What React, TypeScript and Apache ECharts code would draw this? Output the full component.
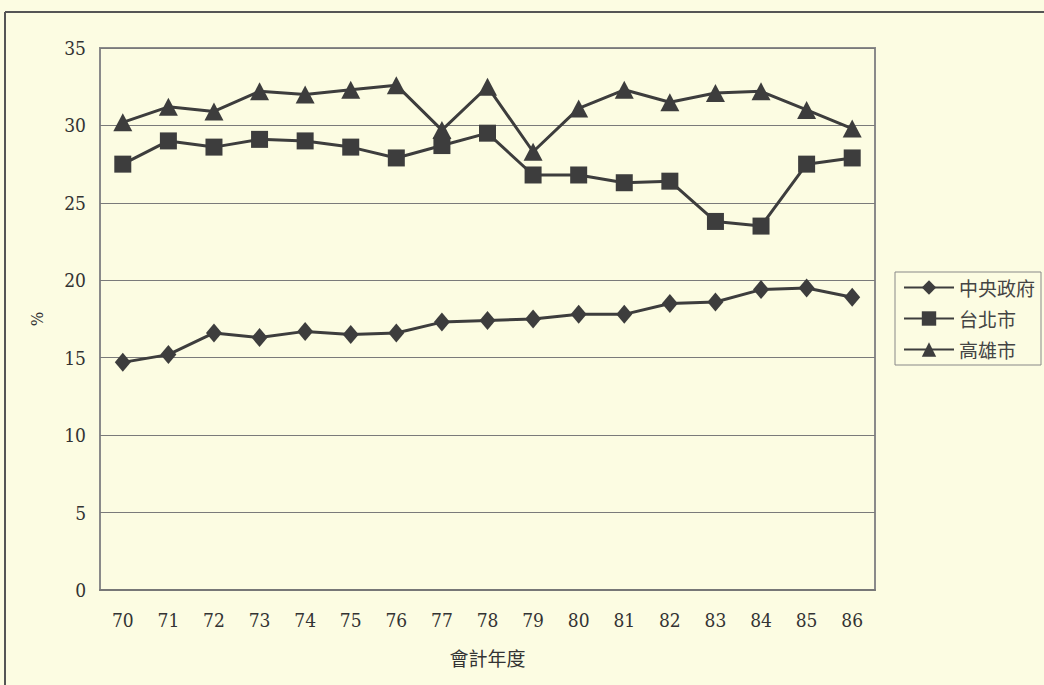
import React, { useEffect, useRef } from "react";
import * as echarts from "echarts";

const years = ["70", "71", "72", "73", "74", "75", "76", "77", "78", "79", "80", "81", "82", "83", "84", "85", "86"];
const central = [14.7, 15.2, 16.6, 16.3, 16.7, 16.5, 16.6, 17.3, 17.4, 17.5, 17.8, 17.8, 18.5, 18.6, 19.4, 19.5, 18.9];
const taipei = [27.5, 29.0, 28.6, 29.1, 29.0, 28.6, 27.9, 28.7, 29.5, 26.8, 26.8, 26.3, 26.4, 23.8, 23.5, 27.5, 27.9];
const kaohsiung = [30.2, 31.2, 30.9, 32.2, 32.0, 32.3, 32.6, 29.7, 32.5, 28.3, 31.1, 32.3, 31.5, 32.1, 32.2, 31.0, 29.8];
const seriesNames = ["中央政府", "台北市", "高雄市"];

const FONT = "'DejaVu Serif Condensed', 'Liberation Serif', 'Noto Sans CJK TC', serif";
const CJK = "'Noto Sans CJK TC', sans-serif";
const LINE = "#3d3d3d";

export default function App() {
  const ref = useRef<HTMLDivElement>(null);
  useEffect(() => {
    const chart = echarts.init(ref.current!, null, { renderer: "svg" });
    const mk = (name: string, data: number[], symbol: string, size: number | number[]) => ({
      name,
      type: "line",
      data,
      symbol,
      symbolSize: size,
      showSymbol: true,
      lineStyle: { color: LINE, width: 3 },
      itemStyle: { color: LINE, borderWidth: 0 },
    });
    chart.setOption({
      animation: false,
      backgroundColor: "#fcfce2",
      textStyle: { fontFamily: FONT },
      graphic: [
        { type: "line", shape: { x1: 5, y1: 12, x2: 1044, y2: 12 }, style: { stroke: "#555", lineWidth: 2 } },
        { type: "line", shape: { x1: 5, y1: 12, x2: 5, y2: 685 }, style: { stroke: "#555", lineWidth: 2 } },
      ],
      grid: {
        left: 100,
        top: 48,
        width: 775,
        height: 542,
        show: true,
        borderColor: "#8a8a8a",
        borderWidth: 2,
        backgroundColor: "transparent",
      },
      legend: {
        orient: "vertical",
        left: 895,
        top: 272,
        data: seriesNames,
        borderColor: "#888",
        borderWidth: 1,
        padding: [6, 6, 6, 8],
        itemGap: 12,
        itemWidth: 50,
        itemHeight: 18,
        textStyle: { fontSize: 19, color: "#444", fontFamily: CJK },
      },
      xAxis: {
        type: "category",
        data: years,
        boundaryGap: true,
        axisLine: { lineStyle: { color: "#777", width: 2 } },
        axisTick: { inside: true, length: 5, lineStyle: { color: "#777" } },
        axisLabel: { margin: 20, fontSize: 19, color: "#333", fontFamily: FONT },
        name: "會計年度",
        nameLocation: "middle",
        nameGap: 58,
        nameTextStyle: { fontSize: 19, color: "#333", fontFamily: CJK },
      },
      yAxis: {
        type: "value",
        min: 0,
        max: 35,
        interval: 5,
        axisLine: { show: false },
        axisTick: { show: false },
        axisLabel: { margin: 14, fontSize: 19, color: "#333", fontFamily: FONT },
        splitLine: { lineStyle: { color: "#7a7a7a", width: 1 } },
        name: "%",
        nameLocation: "middle",
        nameGap: 55,
        nameTextStyle: { fontSize: 17, color: "#333", fontFamily: FONT },
      },
      series: [
        mk(seriesNames[0], central, "diamond", [16, 19]),
        mk(seriesNames[1], taipei, "rect", 17),
        mk(seriesNames[2], kaohsiung, "triangle", [19, 18]),
      ],
    });
    return () => chart.dispose();
  }, []);
  return <div ref={ref} style={{ position: "fixed", left: 0, top: 0, width: 1044, height: 685 }} />;
}
